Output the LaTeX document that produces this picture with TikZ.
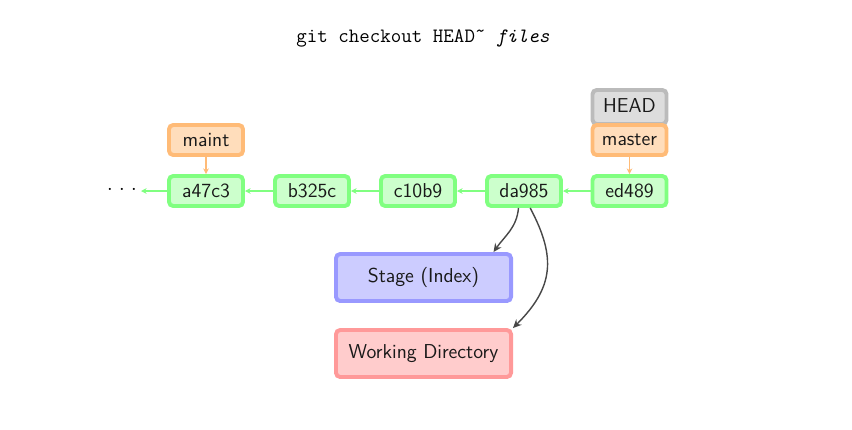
\documentclass[tikz,border=0pt]{standalone}
\usetikzlibrary{arrows.meta}
\tikzset{
  box/.style={draw, rounded corners=3pt, line width=2.8pt, text=black!90,
    font=\sffamily\fontsize{14.3}{16}\selectfont, inner sep=0pt},
  commit/.style={box, draw={rgb,255:red,128;green,255;blue,128},
    fill={rgb,255:red,204;green,255;blue,204}, minimum width=1.85cm, minimum height=0.75cm},
  branch/.style={box, draw={rgb,255:red,255;green,187;blue,119},
    fill={rgb,255:red,255;green,221;blue,187}, minimum width=1.85cm, minimum height=0.75cm},
  headref/.style={box, draw={rgb,255:red,187;green,187;blue,187},
    fill={rgb,255:red,221;green,221;blue,221}, minimum width=1.85cm, minimum height=0.85cm},
  stage/.style={box, draw={rgb,255:red,153;green,153;blue,255},
    fill={rgb,255:red,204;green,204;blue,255}, minimum width=4.375cm, minimum height=1.175cm},
  workdir/.style={box, draw={rgb,255:red,255;green,153;blue,153},
    fill={rgb,255:red,255;green,204;blue,204}, minimum width=4.375cm, minimum height=1.175cm},
  parent/.style={draw={rgb,255:red,128;green,255;blue,128}, line width=1.1pt,
    -{Stealth[length=4pt,width=4pt]}},
  pointer/.style={draw={rgb,255:red,255;green,187;blue,119}, line width=1pt,
    -{Stealth[length=4pt,width=4pt]}},
  copyto/.style={draw=black!72, line width=1pt, -{Stealth[length=6pt,width=5.5pt]}}
}
\begin{document}
\begin{tikzpicture}[x=0.025cm, y=-0.025cm]
  \useasboundingbox (0,0) rectangle (852,429);
  \node (title) at (423,38) {\ttfamily\fontsize{14.5}{17}\selectfont git checkout HEAD\symbol{"02DC} \textit{files}};
  % commits
  \node[commit] (a47c3) at (206,191) {a47c3};
  \node[commit] (b325c) at (312,191) {b325c};
  \node[commit] (c10b9) at (418,191) {c10b9};
  \node[commit] (da985) at (524,191) {da985};
  \node[commit] (ed489) at (629.5,191) {ed489};
  \node[font=\fontsize{14}{15}\selectfont] (dots) at (122,190) {$\cdot$\hspace{4.6pt}$\cdot$\hspace{4.6pt}$\cdot$};
  \coordinate (older) at (141,191);
  % refs
  \node[branch] (maint) at (206,140) {maint};
  \node[headref] (head) at (629.5,107) {\raisebox{1.5pt}{HEAD}};
  \node[branch] (master) at (629.5,140) {master};
  % stage and working tree
  \node[stage] (index) at (423.5,277.5) {Stage (Index)};
  \node[workdir] (wd) at (423.5,353.5) {Working Directory};
  \begin{scope}[parent]
    \draw (a47c3) -- (older);
    \draw (b325c) -- (a47c3);
    \draw (c10b9) -- (b325c);
    \draw (da985) -- (c10b9);
    \draw (ed489) -- (da985);
  \end{scope}
  \begin{scope}[pointer]
    \draw (maint) -- (a47c3);
    \draw (master) -- (ed489);
  \end{scope}
  \begin{scope}[copyto]
    \draw (da985.252) to[out=-95,in=55] (index.20);
    \draw (da985.290) to[out=-62,in=45,looseness=1.2] (wd.north east);
  \end{scope}
\end{tikzpicture}
\end{document}
